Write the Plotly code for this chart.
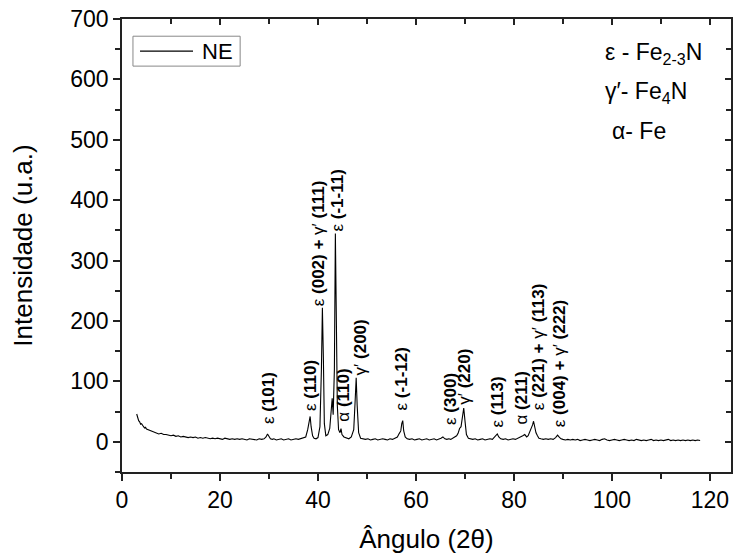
import plotly.graph_objects as go

# ---------------- data ----------------
angle = [3.0, 3.2, 3.4, 3.6, 3.8, 4.0, 4.2, 4.4, 4.6, 4.8, 5.0, 5.3, 5.6, 6.0, 6.5, 7.0, 7.5, 8.0, 8.5, 9.0,
         9.5, 10.0, 10.5, 11.0, 11.5, 12.0, 12.5, 13.0, 13.5, 14.0, 14.5, 15.0, 15.5, 16.0, 16.5, 17.0, 17.5,
         18.0, 18.5, 19.0, 19.5, 20.0, 20.5, 21.0, 21.5, 22.0, 22.5, 23.0, 23.5, 24.0, 24.5, 25.0, 25.5, 26.0,
         26.5, 27.0, 27.5, 28.0, 28.5, 29.0, 29.4, 29.7, 30.0, 30.3, 30.7, 31.0, 31.5, 32.0, 32.5, 33.0, 33.5,
         34.0, 34.5, 35.0, 35.5, 36.0, 36.5, 37.0, 37.5, 37.9, 38.2, 38.4, 38.6, 38.9, 39.2, 39.6, 40.0, 40.4,
         40.7, 40.9, 41.1, 41.3, 41.6, 42.0, 42.4, 42.7, 42.9, 43.1, 43.35, 43.55, 43.75, 43.95, 44.2, 44.5,
         44.7, 44.9, 45.3, 45.8, 46.3, 46.8, 47.3, 47.6, 47.8, 48.0, 48.3, 48.7, 49.2, 49.7, 50.2, 50.7, 51.2,
         51.7, 52.2, 52.7, 53.2, 53.7, 54.2, 54.7, 55.2, 55.7, 56.2, 56.6, 56.9, 57.1, 57.3, 57.5, 57.8, 58.2,
         58.7, 59.2, 59.7, 60.2, 60.7, 61.2, 61.7, 62.2, 62.7, 63.2, 63.7, 64.2, 64.7, 65.1, 65.5, 65.9, 66.3,
         66.7, 67.1, 67.5, 67.9, 68.3, 68.6, 68.9, 69.2, 69.5, 69.75, 70.0, 70.3, 70.7, 71.1, 71.6, 72.1, 72.6,
         73.1, 73.6, 74.1, 74.6, 75.1, 75.6, 76.0, 76.4, 76.6, 76.9, 77.3, 77.8, 78.3, 78.8, 79.3, 79.8, 80.3,
         80.8, 81.3, 81.8, 82.2, 82.6, 82.9, 83.2, 83.5, 83.8, 84.0, 84.2, 84.5, 84.8, 85.1, 85.5, 86.0, 86.5,
         87.0, 87.5, 88.0, 88.5, 88.9, 89.2, 89.6, 90.0, 90.5, 91.0, 91.5, 92.0, 92.5, 93.0, 93.5, 94.0, 94.5,
         95.0, 95.5, 96.0, 96.5, 97.0, 97.5, 98.0, 98.5, 99.0, 99.5, 100.0, 100.5, 101.0, 101.5, 102.0, 102.5,
         103.0, 103.5, 104.0, 104.5, 105.0, 105.5, 106.0, 106.5, 107.0, 107.5, 108.0, 108.5, 109.0, 109.5,
         110.0, 110.5, 111.0, 111.5, 112.0, 112.5, 113.0, 113.5, 114.0, 114.5, 115.0, 115.5, 116.0, 116.5,
         117.0, 117.5, 118.0]
intensity = [46, 40, 35, 33, 29, 30, 26, 25, 23, 24, 21, 20, 19, 17, 16, 15, 13, 14, 12, 12,
             11, 10, 11, 9, 10, 8, 9, 8, 7, 8, 7, 8, 6, 7, 6, 7, 6,
             5, 6, 5, 6, 5, 4, 6, 5, 4, 5, 4, 5, 4, 5, 4, 3, 5,
             4, 4, 3, 5, 4, 5, 8, 13, 9, 5, 4, 5, 3, 4, 5, 3, 4,
             5, 3, 4, 5, 4, 5, 6, 8, 20, 38, 42, 25, 10, 6, 5, 7, 25,
             120, 222, 140, 30, 10, 12, 22, 60, 72, 45, 120, 345, 200, 60, 20, 15,
             22, 12, 8, 6, 5, 8, 20, 70, 106, 60, 15, 6, 5, 4, 5, 3, 4,
             5, 3, 4, 5, 4, 3, 5, 4, 6, 8, 14, 18, 30, 35, 18, 8, 5,
             4, 5, 3, 4, 5, 3, 4, 5, 3, 4, 5, 3, 4, 6, 8, 5, 4,
             5, 4, 6, 7, 10, 14, 22, 25, 45, 56, 35, 12, 6, 5, 4, 5, 3,
             4, 5, 3, 4, 5, 4, 7, 11, 13, 8, 5, 4, 5, 3, 4, 5, 4,
             6, 7, 10, 12, 8, 10, 16, 20, 28, 34, 27, 15, 10, 6, 5, 4, 5,
             4, 5, 4, 7, 11, 8, 5, 4, 3, 4, 3, 4, 3, 4, 2, 3, 4,
             3, 2, 3, 4, 3, 2, 4, 5, 3, 2, 3, 4, 3, 2, 3, 4,
             3, 2, 3, 2, 4, 3, 2, 3, 2, 3, 4, 2, 3, 2,
             3, 2, 3, 4, 2, 3, 2, 3, 2, 3, 2, 3, 2, 3,
             2, 3, 2]

peak_labels = ["ε <b>(101)</b>", "ε <b>(110)</b>", "ε <b>(002) +</b> γ′ <b>(111)</b>", "ε <b>(-1-11)</b>",
               "α <b>(110)</b>", "γ′ <b>(200)</b>", "ε <b>(-1-12)</b>", "ε <b>(300)</b>", "γ′ <b>(220)</b>",
               "ε <b>(113)</b>", "α <b>(211)</b>", "ε <b>(221) +</b> γ′ <b>(113)</b>",
               "ε <b>(004) +</b> γ′ <b>(222)</b>"]
peak_label_x = [29.8, 38.5, 40.0, 43.9, 45.2, 48.7, 57.1, 67.0, 70.0, 76.6, 81.5, 85.0, 89.2]
peak_label_y = [26, 48, 221, 345, 30, 106, 49, 25, 58, 20, 25, 49, 20]

phase_labels = ["ε - Fe<sub>2-3</sub>N", "γ′- Fe<sub>4</sub>N", "α- Fe"]
series_name = "NE"

FONT = "Liberation Sans, Arial, sans-serif"
AXC = "#222222"

fig = go.Figure()
fig.add_trace(go.Scatter(x=angle, y=intensity, mode="lines", name=series_name,
                         line=dict(color="black", width=1.1), showlegend=False))
# dummy trace for mirrored (inward) ticks on top/right
fig.add_trace(go.Scatter(x=[None], y=[None], xaxis="x2", yaxis="y2", showlegend=False, hoverinfo="skip"))

xr = [0, 124.3]
yr = [-50, 700]

fig.update_layout(
    width=733, height=559,
    margin=dict(l=122, r=2, t=19, b=87),
    paper_bgcolor="white", plot_bgcolor="white",
    font=dict(family=FONT, color="black"),
    showlegend=False,
    xaxis=dict(range=xr, dtick=20, tick0=0, showgrid=False, zeroline=False,
               showline=True, linecolor=AXC, linewidth=1.5,
               ticks="outside", ticklen=7, tickwidth=1.5, tickcolor=AXC,
               minor=dict(dtick=10, ticks="outside", ticklen=5, tickwidth=1.5, tickcolor=AXC),
               tickfont=dict(size=23, family=FONT),
               title=dict(text="Ângulo (2θ)", font=dict(size=26, family=FONT), standoff=17)),
    yaxis=dict(range=yr, dtick=100, tick0=0, showgrid=False, zeroline=False,
               showline=True, linecolor=AXC, linewidth=1.5,
               ticks="outside", ticklen=7, tickwidth=1.5, tickcolor=AXC,
               minor=dict(dtick=50, ticks="outside", ticklen=5, tickwidth=1.5, tickcolor=AXC),
               tickfont=dict(size=23, family=FONT),
               title=dict(text="Intensidade (u.a.)", font=dict(size=26, family=FONT), standoff=30)),
    xaxis2=dict(range=xr, overlaying="x", side="top", dtick=20, tick0=0, showgrid=False, zeroline=False,
                showline=True, linecolor=AXC, linewidth=1.5, showticklabels=False,
                ticks="inside", ticklen=6, tickwidth=1.5, tickcolor=AXC,
                minor=dict(dtick=10, ticks="inside", ticklen=5, tickwidth=1.5, tickcolor=AXC),
                anchor="y2"),
    yaxis2=dict(range=yr, overlaying="y", side="right", dtick=100, tick0=0, showgrid=False, zeroline=False,
                showline=True, linecolor=AXC, linewidth=1.5, showticklabels=False,
                ticks="inside", ticklen=6, tickwidth=1.5, tickcolor=AXC,
                minor=dict(dtick=50, ticks="inside", ticklen=5, tickwidth=1.5, tickcolor=AXC),
                anchor="x2"),
)

# legend box (drawn in paper coordinates)
fig.add_shape(type="rect", xref="paper", yref="paper", x0=0.018, x1=0.194, y0=0.896, y1=0.962,
              line=dict(color="#888888", width=1), fillcolor="white", layer="above")
fig.add_shape(type="line", xref="paper", yref="paper", x0=0.0296, x1=0.1166, y0=0.929, y1=0.929,
              line=dict(color="black", width=1.1), layer="above")
fig.add_annotation(x=0.128, y=0.929, xref="paper", yref="paper", text=series_name, showarrow=False,
                   xanchor="left", yanchor="middle", font=dict(size=22, family=FONT, color="black"))

for t, x, y in zip(peak_labels, peak_label_x, peak_label_y):
    fig.add_annotation(x=x, y=y, xref="x", yref="y", text=t, textangle=-90,
                       showarrow=False, xanchor="center", yanchor="bottom",
                       font=dict(size=17, family=FONT, color="black"))

phase_y = [0.923, 0.838, 0.752]
phase_x = [0.79, 0.79, 0.802]
for t, x, y in zip(phase_labels, phase_x, phase_y):
    fig.add_annotation(x=x, y=y, xref="paper", yref="paper", text=t, showarrow=False,
                       xanchor="left", yanchor="middle", font=dict(size=23, family=FONT, color="black"))

fig.write_html("out.html")
